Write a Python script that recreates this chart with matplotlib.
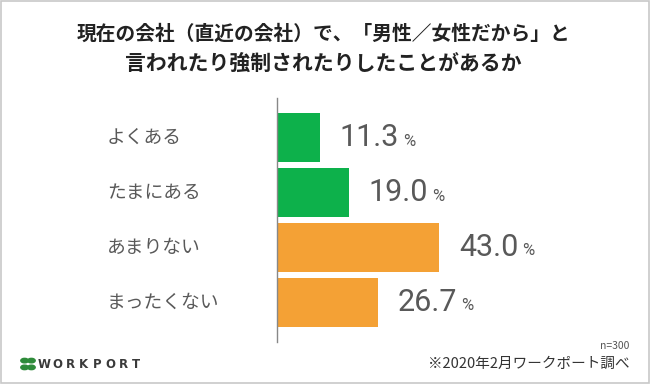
import matplotlib
matplotlib.use('Agg')
import matplotlib.pyplot as plt
from matplotlib.patches import Rectangle, Circle

# data
categories = ['よくある', 'たまにある', 'あまりない', 'まったくない']
values = [11.3, 19.0, 43.0, 26.7]
bar_colors = ['#0db14b', '#0db14b', '#f4a135', '#f4a135']

title_lines = ['現在の会社（直近の会社）で、「男性／女性だから」と',
               '言われたり強制されたりしたことがあるか']
note_n = 'n=300'
note_src = '※2020年2月ワークポート調べ'
logo = 'WORKPORT'

jp = ['Noto Sans CJK JP', 'DejaVu Sans']
num_font = ['Liberation Sans Narrow', 'Roboto', 'DejaVu Sans']
plt.rcParams['font.family'] = jp

fig = plt.figure(figsize=(6.5, 3.84), dpi=100)
fig.patch.set_facecolor('white')

# light grey frame around the whole image
fig.add_artist(Rectangle((0.001, 0.002), 0.997, 0.995, transform=fig.transFigure,
                         fill=False, edgecolor='#c8c8c8', linewidth=1.2))

# axes placed in pixels: left 277, bottom 42, width for 60 %, height 244
ax = fig.add_axes([277 / 650, 42 / 384, 226 / 650, 244 / 384])
ypos = list(range(len(categories)))
ax.barh(ypos, values, height=0.89, color=bar_colors, edgecolor='none')
ax.set_ylim(3.72, -0.72)
ax.set_xlim(0, 60)

for s in ['top', 'right', 'bottom']:
    ax.spines[s].set_visible(False)
ax.spines['left'].set_color('#888888')
ax.spines['left'].set_linewidth(1.0)
ax.set_xticks([])
ax.set_yticks([])

# category labels at the far left
for y, lab in zip(ypos, categories):
    ax.annotate(lab, xy=(0, y), xycoords=('axes fraction', 'data'),
                xytext=(-170, 0), textcoords='offset pixels',
                ha='left', va='center', fontsize=13.5, color='#595959',
                family=jp)

# value labels: big number + small percent sign
for y, v in zip(ypos, values):
    t = ax.annotate(f'{v:.1f}', xy=(v, y), xytext=(20, 0),
                    textcoords='offset pixels', ha='left', va='center',
                    fontsize=22, color='#595959', family=num_font)
    ax.annotate('%', xy=(1, 0.12), xycoords=t, xytext=(4, 0),
                textcoords='offset pixels', ha='left', va='bottom',
                fontsize=12, color='#595959', family=num_font)

# title, one text per line
for yc, line, fs in zip([34, 63], title_lines, [14.2, 15.0]):
    fig.text(0.497, 1 - yc / 384, line, ha='center', va='center', fontsize=fs,
             fontweight='bold', color='#222222', family=jp)

# footer notes
fig.text(629 / 650, 1 - 346 / 384, note_n, ha='right', va='center',
         fontsize=7.5, color='#555555', family=jp)
fig.text(630 / 650, 1 - 364 / 384, note_src, ha='right', va='center',
         fontsize=10.5, color='#333333', family=jp)

# WORKPORT logo (clover + spaced wordmark)
cx, cy, r = 28, 364, 3.8
for dx, dy in [(-3.4, -3.4), (3.4, -3.4), (-3.4, 3.4), (3.4, 3.4)]:
    fig.add_artist(Circle(((cx + dx) / 650, 1 - (cy + dy) / 384), r / 650,
                          transform=fig.transFigure, color='#2e8b3a'))
for i, ch in enumerate(logo):
    fig.text((44 + i * 13.2) / 650, 1 - 364 / 384, ch, ha='center', va='center',
             fontsize=8.5, fontweight='bold', color='#3a3a3a',
             family=['DejaVu Sans'])

fig.savefig('out.png', dpi=100, facecolor='white')
